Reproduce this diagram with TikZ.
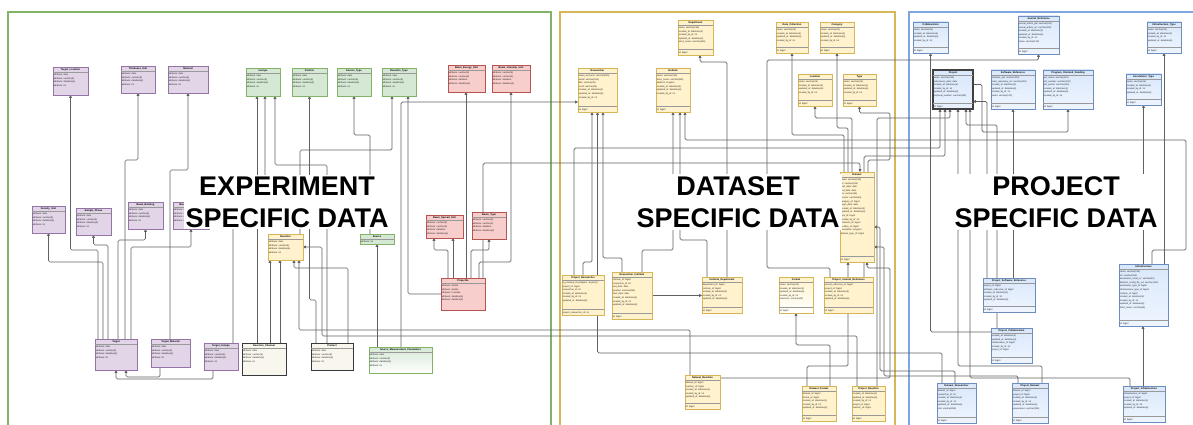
\documentclass[tikz,border=0pt]{standalone}
\usepackage{fontspec}
\setmainfont{Liberation Sans}
\usetikzlibrary{arrows.meta,calc}
\pgfdeclarelayer{bg}\pgfdeclarelayer{edges}\pgfdeclarelayer{fg}
\pgfsetlayers{bg,edges,main,fg}
\definecolor{puF}{HTML}{E1D5E7}\definecolor{puD}{HTML}{9673A6}
\definecolor{grF}{HTML}{D5E8D4}\definecolor{grD}{HTML}{82B366}
\definecolor{rdF}{HTML}{F8CECC}\definecolor{rdD}{HTML}{B85450}
\definecolor{crF}{HTML}{F9F7ED}\definecolor{crD}{HTML}{36393D}
\definecolor{yeF}{HTML}{FFF2CC}\definecolor{yeD}{HTML}{D6B656}
\definecolor{blF}{HTML}{DAE8FC}\definecolor{blD}{HTML}{6C8EBF}
\definecolor{blFrame}{HTML}{7EA6E0}
\newcommand\ent[9]{%
  \node[ebox,#2,minimum width=#5pt,minimum height=#6pt,anchor=north west] (#1) at (#3,#4) {};
  \node[etitle,anchor=north] at (#1.north) {#7};
  \draw[esep] ([yshift=-5.5pt]#1.north west) -- ([yshift=-5.5pt]#1.north east);
  \node[eattr,anchor=north west] at ([yshift=-6pt]#1.north west) {#8};
  \if\relax\detokenize{#9}\relax\else
    \draw[esep] ([yshift=6pt]#1.south west) -- ([yshift=6pt]#1.south east);
    \node[eattr,anchor=south west] at ([yshift=0.3pt]#1.south west) {#9};
  \fi}
\newcommand\pat{attribute: date\\attribute: varchar(8)\\attribute: datetime(6)\\attribute: int}
\newcommand\rat{attribute: varchar(8)\\attribute: varchar(8)\\attribute: datetime\\attribute: datetime(6)}
\newcommand\lat{name: varchar(45)\\created\_at: datetime(6)\\updated\_at: datetime(6)\\created\_by\_id: int}
\begin{document}
\begin{tikzpicture}[x=1pt,y=-1pt,
 ebox/.style={draw,line width=0.7pt,inner sep=0pt,outer sep=0pt},
 pu/.style={draw=puD,fill=puF},
 gr/.style={draw=grD,fill=grF},
 grg/.style={draw=grD,top color=grF,bottom color=white},
 rd/.style={draw=rdD,fill=rdF},
 cr/.style={draw=crD,fill=crF},
 ye/.style={draw=yeD,fill=yeF},
 yeg/.style={draw=yeD,top color=yeF,bottom color=white},
 bl/.style={draw=blD,top color=blF,bottom color=blF!45!white},
 blb/.style={draw=black!75,line width=1.2pt,top color=blF,bottom color=blF!60!white},
 esep/.style={draw=black!40,line width=0.35pt},
 eattr/.style={font=\fontsize{2.3}{3.6}\selectfont,align=left,inner sep=0.6pt,text=black!85},
 etitle/.style={font=\bfseries\fontsize{2.5}{3}\selectfont,inner sep=1.3pt},
 conn/.style={draw=black!62,line width=0.7pt,rounded corners=1.5pt,-{Triangle[length=2.8pt,width=2.8pt]}},
 frame/.style={line width=1.5pt},
 biglabel/.style={font=\bfseries\fontsize{27}{32}\selectfont,align=center,fill=white,inner sep=2pt,text=black}]
\useasboundingbox (0,0) rectangle (1193,425);
\begin{pgfonlayer}{bg}
\fill[white] (0,0) rectangle (1193,425);
\draw[frame,draw=grD] (8,12) rectangle (551,440);
\draw[frame,draw=yeD] (560,12) rectangle (895,440);
\draw[frame,draw=blFrame] (909,12) rectangle (1210,440);
\end{pgfonlayer}

% ---------- experiment ----------
\ent{TL}{pu}{53}{67}{35}{28}{Target\_Location}{\pat}{}
\ent{TU}{pu}{121}{66}{34}{27}{Thickness\_Unit}{\pat}{}
\ent{MA}{pu}{168}{66}{40}{27}{Material}{\pat}{}
\ent{IS}{gr}{246}{68}{34}{28}{Isotope}{\pat}{}
\ent{PA}{gr}{292}{68}{35}{28}{Particle}{\pat}{}
\ent{ST}{gr}{337}{68}{34}{28}{Source\_Type}{\pat}{}
\ent{RT}{gr}{382}{68}{34}{28}{Reaction\_Type}{\pat}{}
\ent{BEU}{rd}{448}{65}{37}{27}{Beam\_Energy\_Unit}{\rat}{}
\ent{BIU}{rd}{492}{65}{38}{27}{Beam\_Intensity\_Unit}{\rat}{}
\ent{DU}{pu}{32}{206}{33}{27}{Density\_Unit}{\pat}{}
\ent{SP}{pu}{76}{208}{35}{27}{Sample\_Phase}{\pat}{}
\ent{BB}{pu}{128}{202}{35}{27}{Beam\_Backing}{\pat}{}
\ent{BX}{pu}{173}{202}{36}{27}{Beam\_Current\_Unit}{\pat}{}
\ent{RX}{ye}{268}{234}{35}{26}{Reaction}{\pat}{}
\ent{SO}{gr}{360}{234}{34}{10}{Source}{attribute: int}{}
\ent{BSU}{rd}{426}{215}{37}{23}{Beam\_Spread\_Unit}{\rat}{}
\ent{BT}{rd}{472}{212}{34}{27}{Beam\_Type}{\rat}{}
\ent{PJ}{rd}{441}{278}{44}{32}{Projectile}{attribute: double\\attribute: double\\attribute: b double\\attribute: datetime(6)\\attribute: datetime(6)}{}
\ent{TA}{pu}{95}{339}{42}{31}{Target}{\pat}{}
\ent{TM}{pu}{151}{339}{39}{28}{Target\_Material}{\pat}{}
\ent{TI}{pu}{204}{343}{34}{27}{Target\_Isotope}{\pat}{}
\ent{RC}{cr}{242}{343}{44}{32}{Reaction\_Channel}{\pat}{}
\ent{PR}{cr}{311}{343}{42}{27}{Product}{\pat}{}
\ent{SMP}{grg}{369}{347}{63}{26}{Source\_Measurement\_Parameters}{\pat}{}

% ---------- dataset ----------
\ent{DE}{ye}{678}{20}{35}{35}{Department}{name: varchar(255)\\created\_at: datetime(6)\\created\_by\_id: int\\updated\_at: datetime(6)\\short\_name: varchar(255)}{id: bigint}
\ent{DC}{ye}{776}{22}{32}{31}{Data\_Collection}{\lat}{id: bigint}
\ent{CA}{ye}{820}{22}{34}{31}{Category}{\lat}{id: bigint}
\ent{RE}{ye}{578}{68}{39}{44}{Researcher}{name\_surname: varchar(255)\\email: varchar(255)\\title: varchar(45)\\orcid: varchar(45)\\created\_at: datetime(6)\\updated\_at: datetime(6)\\created\_by\_id: int}{id: bigint}
\ent{IN}{ye}{656}{68}{34}{44}{Institute}{name: varchar(255)\\short\_name: varchar(255)\\address: longtext\\created\_at: datetime(6)\\updated\_at: datetime(6)\\created\_by\_id: int}{id: bigint}
\ent{LO}{ye}{798}{74}{34}{32}{Location}{\lat}{id: bigint}
\ent{TY}{ye}{843}{74}{33}{32}{Type}{\lat}{id: bigint}
\ent{DS}{ye}{840}{172}{34}{90}{Dataset}{name: varchar(255)\\url: varchar(255)\\start\_date: date\\end\_date: date\\doi: varchar(45)\\version: varchar(45)\\category\_id: bigint\\begin\_date: date\\created\_at: datetime(6)\\updated\_at: datetime(6)\\type\_id: bigint\\created\_by\_id: int\\collection\_id: bigint\\location\_id: bigint\\description: longtext\\dataset\_type\_id: bigint}{id: bigint}
\ent{PRS}{ye}{562}{275}{42}{40}{Project\_Researcher}{is\_principal\_investigator: tinyint(1)\\project\_id: bigint\\researcher\_id: int\\created\_at: datetime(6)\\created\_by\_id: int\\updated\_at: datetime(6)}{project\_researcher\_id: int}
\ent{RI}{ye}{612}{272}{40}{47}{Researcher\_Institute}{institute\_id: bigint\\researcher\_id: int\\end\_date: date\\position: varchar(255)\\start\_date: date\\created\_at: datetime(6)\\created\_by\_id: int\\updated\_at: datetime(6)}{id: bigint}
\ent{ID}{ye}{702}{277}{40}{36}{Institute\_Department}{department\_id: bigint\\institute\_id: bigint\\created\_at: datetime(6)\\created\_by\_id: int\\updated\_at: datetime(6)}{id: bigint}
\ent{FO}{yeg}{779}{277}{34}{36}{Format}{name: varchar(45)\\created\_at: datetime(6)\\updated\_at: datetime(6)\\created\_by\_id: int\\extension: varchar(45)}{id: bigint}
\ent{PJR}{ye}{824}{277}{49}{36}{Project\_Journal\_Reference}{journal\_reference\_id: bigint\\project\_id: bigint\\created\_at: datetime(6)\\created\_by\_id: int\\updated\_at: datetime(6)}{id: bigint}
\ent{DR}{ye}{685}{375}{35}{34}{Dataset\_Reaction}{dataset\_id: bigint\\reaction\_id: bigint\\created\_at: datetime(6)\\created\_by\_id: int\\updated\_at: datetime(6)}{id: bigint}
\ent{DF}{ye}{802}{386}{34}{35}{Dataset\_Format}{dataset\_id: bigint\\format\_id: bigint\\created\_at: datetime(6)\\created\_by\_id: int\\updated\_at: datetime(6)}{id: bigint}
\ent{PRE}{ye}{852}{386}{33}{35}{Project\_Reaction}{created\_at: datetime(6)\\updated\_at: datetime(6)\\created\_by\_id: int\\project\_id: bigint\\reaction\_id: bigint}{id: bigint}

% ---------- project ----------
\ent{CO}{bl}{913}{22}{35}{31}{Collaboration}{\lat}{id: bigint}
\ent{JR}{bl}{1018}{16}{41}{38}{Journal\_Reference}{journal\_article\_pid: varchar(100)\\journal\_article\_url: varchar(100)\\created\_at: datetime(6)\\updated\_at: datetime(6)\\created\_by\_id: int\\name: varchar(100)}{id: bigint}
\ent{IT}{bl}{1147}{22}{34}{31}{Infrastructure\_Type}{name: varchar(45)\\created\_at: datetime(6)\\created\_by\_id: int\\updated\_at: datetime(6)}{id: bigint}
\ent{PJ2}{blb}{933}{70}{40}{39}{Project}{name: varchar(255)\\submission\_date: date\\created\_at: datetime(6)\\created\_by\_id: int\\updated\_at: datetime(6)\\proposal\_number: varchar(255)}{id: bigint}
\ent{SR}{bl}{991}{70}{44}{39}{Software\_Reference}{software\_pid: varchar(100)\\code\_repository\_url: varchar(100)\\created\_at: datetime(6)\\updated\_at: datetime(6)\\created\_by\_id: int\\name: varchar(100)}{id: bigint}
\ent{POF}{bl}{1043}{70}{50}{39}{Program\_Oriented\_Funding}{pof\_name: varchar(100)\\pof\_number: varchar(100)\\pof\_period: varchar(100)\\created\_at: datetime(6)\\updated\_at: datetime(6)\\created\_by\_id: int}{id: bigint}
\ent{AT}{bl}{1126}{74}{35}{31}{Accelerator\_Type}{name: varchar(45)\\created\_at: datetime(6)\\created\_by\_id: int\\updated\_at: datetime(6)}{id: bigint}
\ent{PSR}{bl}{983}{278}{52}{34}{Project\_Software\_Reference}{project\_id: bigint\\software\_reference\_id: bigint\\created\_at: datetime(6)\\created\_by\_id: int\\updated\_at: datetime(6)}{id: bigint}
\ent{PCO}{bl}{991}{328}{41}{35}{Project\_Collaboration}{created\_at: datetime(6)\\updated\_at: datetime(6)\\collaboration\_id: bigint\\created\_by\_id: int\\project\_id: bigint}{id: bigint}
\ent{INF}{bl}{1119}{264}{49}{62}{Infrastructure}{name: varchar(255)\\url: varchar(255)\\accelerator\_serial\_nr: varchar(45)\\detector\_config\_file\_url: varchar(100)\\accelerator\_type\_id: bigint\\infrastructure\_type\_id: bigint\\institute\_id: bigint\\created\_at: datetime(6)\\created\_by\_id: int\\updated\_at: datetime(6)\\short\_name: varchar(45)}{id: bigint}
\ent{DRS}{bl}{937}{383}{39}{40}{Dataset\_Researcher}{dataset\_id: bigint\\researcher\_id: int\\created\_at: datetime(6)\\created\_by\_id: int\\updated\_at: datetime(6)\\role: varchar(255)}{id: bigint}
\ent{PDS}{bl}{1012}{383}{36}{40}{Project\_Dataset}{dataset\_id: bigint\\project\_id: bigint\\created\_at: datetime(6)\\created\_by\_id: int\\updated\_at: datetime(6)\\provenance: varchar(255)}{id: bigint}
\ent{PIN}{bl}{1123}{386}{42}{36}{Project\_Infrastructure}{infrastructure\_id: bigint\\project\_id: bigint\\created\_at: datetime(6)\\created\_by\_id: int\\updated\_at: datetime(6)}{id: bigint}

\begin{pgfonlayer}{edges}
% experiment
\draw[conn] ([xshift=3pt]TA.north west) |- (70.5,250) -- (TL.south);
\draw[conn] ([xshift=8pt]TA.north west) |- (48.5,262) -- (DU.south);
\draw[conn] ([xshift=13pt]TA.north west) |- (93.5,245) -- (SP.south);
\draw[conn] ([xshift=23pt]TA.north west) |- (145.5,240) -- (BB.south);
\draw[conn] ([xshift=30pt]TA.north west) |- (138,160) -- (TU.south);
\draw[conn] ([xshift=36pt]TA.north west) |- (191,247) -- (BX.south);
\draw[conn] ([xshift=19pt]TM.north west) |- (188,170) -- (MA.south);
\draw[conn] ([xshift=9pt]TM.south west) |- (126,377) -- ([xshift=31pt]TA.south west);
\draw[conn] ([xshift=9pt]TI.south west) |- (116,379) -- ([xshift=21pt]TA.south west);
\draw[conn] ([xshift=29pt]TI.north west) |- (265,185) -- ([xshift=19pt]IS.south west);
\draw[conn] ([xshift=15pt]RC.north west) -- ([xshift=11pt]IS.south west);
\draw[conn] ([xshift=28pt]RC.north west) -- ([xshift=2pt]RX.south west);
\draw[conn] ([xshift=38pt]RC.north west) -- ([xshift=12pt]RX.south west);
\draw[conn] ([xshift=5pt]PR.north west) |- (309.5,300) -- (PA.south);
\draw[conn] ([xshift=16pt]PR.north west) |- (275,165) -- ([xshift=29pt]IS.south west);
\draw[conn] ([xshift=37pt]PR.north west) |- (294,268) -- ([xshift=26pt]RX.south west);
\draw[conn] ([xshift=8pt]SMP.north west) -- ([xshift=17pt]SO.south west);
\draw[conn] ([xshift=10pt]SO.north west) |- (354,135) -- (ST.south);
\draw[conn] ([xshift=32pt]SMP.north west) |- ([yshift=-12pt]RE.west);
\draw[conn] (PJ.west) -| ([xshift=26pt]RT.south west);
\draw[conn] ([xshift=-3pt]RX.north east) |- (392,150) -- ([xshift=10pt]RT.south west);
\draw[conn] ([xshift=7pt]PJ.north west) |- (434,250) -- ([xshift=8pt]BSU.south west);
\draw[conn] ([xshift=12pt]PJ.north west) -- ([xshift=27pt]BSU.south west);
\draw[conn] ([xshift=25pt]PJ.north west) -- ([xshift=18pt]BEU.south west);
\draw[conn] ([xshift=30pt]PJ.north west) |- (489,250) -- ([xshift=17pt]BT.south west);
\draw[conn] ([xshift=38pt]PJ.north west) |- (511,262) -- ([xshift=19pt]BIU.south west);
% cross / dataset
\draw[conn] ([xshift=42pt]PJ.north west) |- (860,163) -- ([xshift=20pt]DS.north west);
\draw[conn] ([xshift=5pt]DR.north west) |- (299,330) -- ([xshift=-4pt]RX.south east);
\draw[conn] ([xshift=5pt]PRE.north west) |- (322,336) |- (RX.east);
\draw[conn] ([yshift=-3pt]DR.north east) -| (890,268) -| ([xshift=27pt]DS.south west);
\draw[conn] ([xshift=5pt]DF.north west) |- (848,366) -- ([xshift=8pt]DS.south west);
\draw[conn] ([xshift=28pt]DF.north west) |- (796,345) -- (FO.south);
\draw[conn] ([xshift=25pt]PRE.north west) |- (950,118) -- ([xshift=17pt]PJ2.south west);
\draw[conn] ([xshift=18pt]DRS.north west) |- (880,371) |- ([yshift=-10pt]DS.east);
\draw[conn] ([xshift=6pt]PDS.north west) |- (884,376) |- ([yshift=-30pt]DS.east);
\draw[conn] ([xshift=5pt]DRS.north west) |- (597.5,353) -- (RE.south);
\draw[conn] ([xshift=21pt]PRS.north west) |- (592,262) -- ([xshift=14pt]RE.south west);
\draw[conn] ([xshift=10pt]RI.north west) |- (603,258) -- ([xshift=25pt]RE.south west);
\draw[conn] ([xshift=30pt]RI.north west) |- (673,250) -- (IN.south);
\draw[conn] (RI.east) -- (RI.east -| ID.west);
\draw[conn] ([xshift=5pt]ID.north west) |- (680,240) -- ([xshift=24pt]IN.south west);
\draw[conn] ([xshift=25pt]ID.north west) |- (700,62) -- ([xshift=22pt]DE.south west);
\draw[conn] ([xshift=12pt]PRS.north west) |- (940,148) -- ([xshift=7pt]PJ2.south west);
\draw[conn] ([xshift=40pt]PJR.north west) |- (945,156) -- ([xshift=12pt]PJ2.south west);
\draw[conn] ([xshift=6pt]PJR.north west) |- (767,268) |- (1038.5,60) -- (JR.south);
\draw[conn] ([xshift=4pt]DS.north west) |- (792,135) -- (DC.south);
\draw[conn] ([xshift=8pt]DS.north west) |- (837,128) -- (CA.south);
\draw[conn] ([xshift=12pt]DS.north west) |- (815,118) -- (LO.south);
\draw[conn] ([xshift=28pt]DS.north west) |- (890,160) |- (859.5,113) -- (TY.south);
% project
\draw[conn] ([xshift=4pt]PSR.north west) |- ([yshift=-12pt]PJ2.east);
\draw[conn] ([xshift=30pt]PSR.north west) -- ([xshift=22pt]SR.south west);
\draw[conn] ([yshift=-4pt]PCO.north west) -| (CO.south);
\draw[conn] ([xshift=6pt]PCO.north west) |- (966,125) -- ([xshift=33pt]PJ2.south west);
\draw[conn] ([xshift=20pt]PIN.north west) -- ([xshift=24pt]INF.south west);
\draw[conn] ([xshift=7pt]PIN.north west) |- (970,378) -- ([xshift=37pt]PJ2.south west);
\draw[conn] ([xshift=30pt]PDS.north west) |- (958,366) -- ([xshift=25pt]PJ2.south west);
\draw[conn] ([xshift=45pt]INF.north west) -- (IT.south);
\draw[conn] ([xshift=24.5pt]INF.north west) -- (AT.south);
\draw[conn] ([xshift=33pt]INF.north west) |- (1186,250) |- (685,140) -- ([xshift=29pt]IN.south west);
\draw[conn] ([yshift=5pt]PJ2.east) -| (982,132) -| (POF.south);
\end{pgfonlayer}

\begin{pgfonlayer}{fg}
\node[biglabel] (L1) at (287,202) {EXPERIMENT\\SPECIFIC DATA};
\node[biglabel] (L2) at (738,202) {DATASET\\SPECIFIC DATA};
\node[biglabel] (L3) at (1056,202) {PROJECT\\SPECIFIC DATA};
\end{pgfonlayer}
\end{tikzpicture}
\end{document}
